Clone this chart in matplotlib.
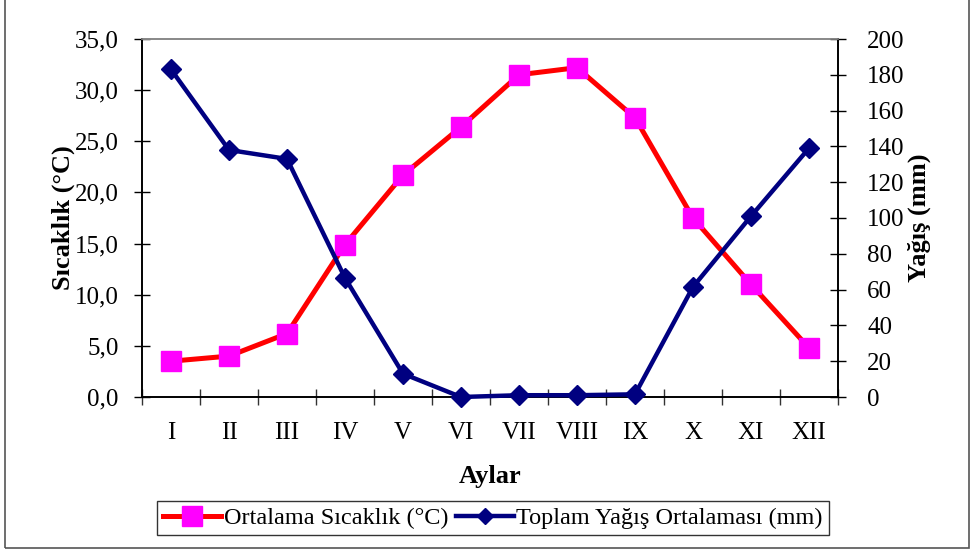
import matplotlib
matplotlib.use("Agg")
import matplotlib.pyplot as plt
from matplotlib.lines import Line2D
from matplotlib.patches import Rectangle

months = ["I", "II", "III", "IV", "V", "VI", "VII", "VIII", "IX", "X", "XI", "XII"]
temperature = [3.5, 4.0, 6.2, 14.9, 21.7, 26.4, 31.5, 32.2, 27.3, 17.5, 11.0, 4.8]
precipitation = [183, 138, 133, 66.5, 13, 0, 1, 1, 1.5, 61.5, 101, 139]
temp_ticks = [0, 5, 10, 15, 20, 25, 30, 35]
prec_ticks = [0, 20, 40, 60, 80, 100, 120, 140, 160, 180, 200]

plt.rcParams['font.family'] = ['Liberation Serif', 'DejaVu Serif']

W, H = 976, 550
fig = plt.figure(figsize=(W / 100, H / 100), dpi=100)
fig.patch.set_facecolor('white')

# outer frame
fig.add_artist(Rectangle((5 / W, 2 / H), 964 / W, 560 / H, transform=fig.transFigure,
                         fill=False, edgecolor='#555555', linewidth=1.2, clip_on=False))

L, R, T, B = 142, 838, 39, 397
ax = fig.add_axes([L / W, 1 - B / H, (R - L) / W, (B - T) / H])
ax2 = ax.twinx()

x = list(range(len(months)))
ax.plot(x, temperature, color='#FF0000', linewidth=3.6, marker='s', markersize=14,
        markerfacecolor='#FF00FF', markeredgecolor='#FF00FF', zorder=3, clip_on=False)
ax2.plot(x, precipitation, color='#000080', linewidth=3.2, marker='D', markersize=10,
         markerfacecolor='#000080', markeredgecolor='#000080', zorder=3, clip_on=False)

ax.set_xlim(-0.5, len(months) - 0.5)
ax.set_ylim(0, 35)
ax2.set_ylim(0, 200)

FS = 18
ax.set_yticks(temp_ticks)
ax.set_yticklabels([f"{v:.1f}".replace('.', ',') for v in temp_ticks])
ax2.set_yticks(prec_ticks)
ax2.set_yticklabels([str(v) for v in prec_ticks])

ax.set_xticks([i + 0.5 for i in range(-1, len(months))])
ax.set_xticklabels([])
ax.set_xticks(x, minor=True)
ax.set_xticklabels(months, minor=True)
ax.tick_params(axis='x', which='major', direction='inout', length=12, width=1, color='#333333')
ax.tick_params(axis='x', which='minor', length=0, pad=18, labelsize=FS)
ax.tick_params(axis='y', direction='inout', length=12, width=1, labelsize=FS, pad=11)
ax2.tick_params(axis='y', direction='inout', length=12, width=1, labelsize=FS, pad=15)

for a in (ax, ax2):
    for s in a.spines.values():
        s.set_linewidth(1.2)
    a.spines['top'].set_color('#888888')
    a.spines['left'].set_color('black')
    a.spines['right'].set_color('black')
    a.spines['bottom'].set_color('black')

ax.set_ylabel("Sıcaklık (°C)", fontsize=19, fontweight='bold', labelpad=0)
ax2.set_ylabel("Yağış (mm)", fontsize=19, fontweight='bold', labelpad=2)
ax.set_xlabel("Aylar", fontsize=19, fontweight='bold', labelpad=15)

handles = [
    Line2D([], [], color='#FF0000', linewidth=3.6, marker='s', markersize=14,
           markerfacecolor='#FF00FF', markeredgecolor='#FF00FF'),
    Line2D([], [], color='#000080', linewidth=3.2, marker='D', markersize=8,
           markerfacecolor='#000080', markeredgecolor='#000080'),
]
leg = fig.legend(handles, ["Ortalama Sıcaklık (°C)", "Toplam Yağış Ortalaması (mm)"],
                 loc='center', bbox_to_anchor=(493 / W, 1 - 518 / H), ncol=2,
                 fontsize=17.5, frameon=True, fancybox=False, handlelength=2.4,
                 handletextpad=0.1, columnspacing=0.3, borderpad=0.25, borderaxespad=0)
leg.get_frame().set_edgecolor('black')
leg.get_frame().set_linewidth(1.0)

fig.savefig("out.png", dpi=100, facecolor='white')
